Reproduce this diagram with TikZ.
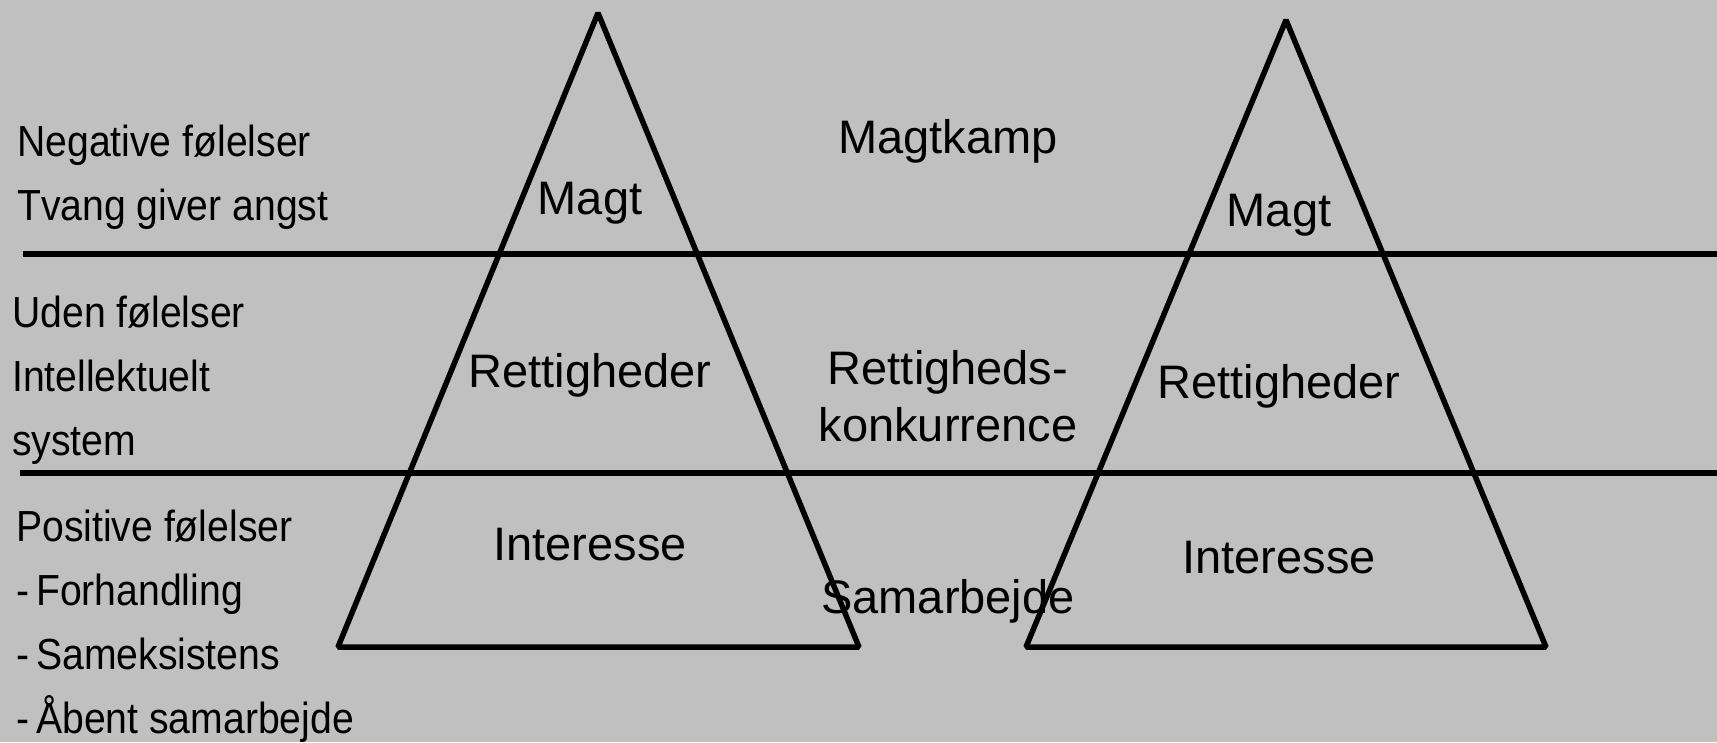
\documentclass[tikz,border=0pt]{standalone}
\usepackage{fontspec}
\usepackage{xcolor}
\usepackage{tikz}
\usetikzlibrary{positioning}
\setmainfont{Liberation Sans}
\newfontfamily\narrowfont[FakeStretch=0.9]{Liberation Sans}
\definecolor{bgGray}{RGB}{192,192,192}

\begin{document}
\begin{tikzpicture}[
  x=1pt, y=-1pt,
  sidetxt/.style={
    anchor=base west,
    inner sep=0pt,
    align=left,
    font=\narrowfont\fontsize{43.5}{64}\selectfont
  },
  lvl/.style={
    anchor=base,
    inner sep=0pt,
    align=center,
    font=\fontsize{47}{57}\selectfont
  },
  bar/.style={line width=5.5pt},
  tri/.style={line width=5.5pt, line join=bevel},
]

\fill[bgGray] (0,0) rectangle (1717,742);
\useasboundingbox (0,0) rectangle (1717,742);

% level borders
\coordinate (topw) at (23,254);
\coordinate (tope) at (1717,254);
\coordinate (loww) at (20,473);
\coordinate (lowe) at (1717,473);
\draw[bar] (topw) -- (tope);
\draw[bar] (loww) -- (lowe);

% the two pyramids
\coordinate (ltop) at (598,13);
\coordinate (lleft) at (338,647);
\coordinate (lright) at (859,647);
\coordinate (rtop) at (1286,20);
\coordinate (rleft) at (1026,647);
\coordinate (rright) at (1546,647);
\draw[tri] (ltop) -- (lright) -- (lleft) -- cycle;
\draw[tri] (rtop) -- (rright) -- (rleft) -- cycle;

% side texts (anchored at the last line)
\node[sidetxt] (neg) at (17,220) {Negative følelser\\Tvang giver angst};
\node[sidetxt] (uden) at (12,455) {Uden følelser\\Intellektuelt\\system};
\node[sidetxt] (pos) at (16,733)
{Positive følelser\\-\hspace{7pt}Forhandling\\-\hspace{7pt}Sameksistens\\-\hspace{7pt}Åbent samarbejde};

\node[lvl] (lmagt) at (590,214) {Magt};
\node[lvl] (lret) at (590,387) {Rettigheder};
\node[lvl] (lint) at (590,560) {Interesse};

\node[lvl] (kamp) at (948,153) {Magtkamp};
\node[lvl] (konk) at (948,441) {Rettigheds-\\konkurrence};
\node[lvl] (samar) at (948,613) {Samarbejde};

\node[lvl] (rmagt) at (1279,226) {Magt};
\node[lvl] (rret) at (1279,398) {Rettigheder};
\node[lvl] (rint) at (1279,573) {Interesse};

\end{tikzpicture}
\end{document}
